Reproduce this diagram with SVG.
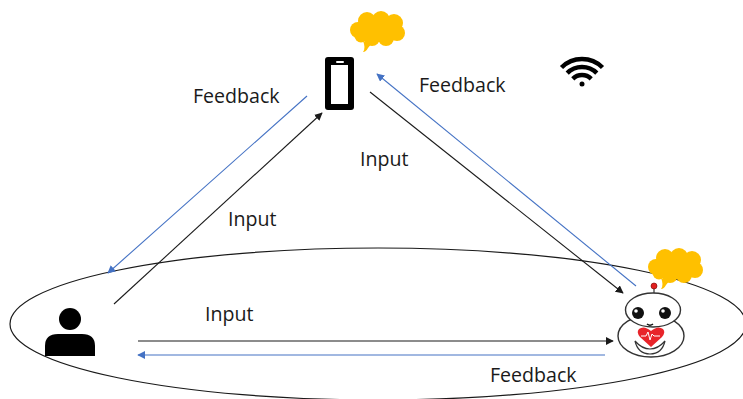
<svg xmlns="http://www.w3.org/2000/svg" width="743" height="399" viewBox="0 0 743 399">
  <style>
    .lbl { font-family: "Open Sans", "Noto Sans", "DejaVu Sans", sans-serif; font-size: 19.6px; fill: #1a1a1a; }
    .in { stroke: #1a1a1a; stroke-width: 1.1; fill: none; }
    .fb { stroke: #4472C4; stroke-width: 1.1; fill: none; }
    .cloud { fill: #FFC000; }
  </style>
  <defs>
    <marker id="arrBlack" viewBox="0 0 10 10" refX="9" refY="5" markerWidth="8" markerHeight="8" markerUnits="userSpaceOnUse" orient="auto">
      <path d="M0,0 L10,5 L0,10 z" fill="#1a1a1a"/>
    </marker>
    <marker id="arrBlue" viewBox="0 0 10 10" refX="9" refY="5" markerWidth="8" markerHeight="8" markerUnits="userSpaceOnUse" orient="auto">
      <path d="M0,0 L10,5 L0,10 z" fill="#4472C4"/>
    </marker>
    <g id="cloudShape" class="cloud">
      <ellipse cx="377" cy="29" rx="22" ry="13"/>
      <circle cx="358" cy="30" r="8"/>
      <circle cx="367" cy="21" r="9"/>
      <circle cx="381" cy="20" r="9"/>
      <circle cx="394" cy="23" r="9"/>
      <circle cx="397" cy="33" r="8"/>
      <circle cx="386" cy="38" r="8"/>
      <circle cx="372" cy="38" r="8"/>
      <circle cx="361" cy="36" r="6.5"/>
      <path d="M363,41 L372,43 L368,48 Q366,52 363,52 Q366,48 363,41 z"/>
    </g>
  </defs>

  <rect width="743" height="399" fill="#ffffff"/>

  <!-- local zone around the user and the robot -->
  <g id="zone">
    <ellipse cx="378" cy="324" rx="368" ry="76" fill="none" stroke="#1a1a1a" stroke-width="1.2"/>
  </g>

  <!-- connectors -->
  <g id="connectors">
    <line class="in" x1="114" y1="304" x2="322" y2="113" marker-end="url(#arrBlack)"/>
    <line class="fb" x1="307" y1="96" x2="108" y2="273" marker-end="url(#arrBlue)"/>
    <line class="in" x1="370" y1="92" x2="623" y2="293" marker-end="url(#arrBlack)"/>
    <line class="fb" x1="636" y1="286" x2="377" y2="74" marker-end="url(#arrBlue)"/>
    <line class="in" x1="138" y1="341" x2="613" y2="341" marker-end="url(#arrBlack)"/>
    <line class="fb" x1="605" y1="355" x2="138" y2="355" marker-end="url(#arrBlue)"/>
  </g>

  <!-- labels -->
  <g id="labels">
    <text class="lbl" x="193" y="103">Feedback</text>
    <text class="lbl" x="419" y="92">Feedback</text>
    <text class="lbl" x="360" y="166">Input</text>
    <text class="lbl" x="228" y="226">Input</text>
    <text class="lbl" x="205" y="321">Input</text>
    <text class="lbl" x="490" y="382">Feedback</text>
  </g>

  <!-- smartphone with thought cloud -->
  <g id="phone">
    <use href="#cloudShape"/>
    <rect x="325" y="57" width="29" height="53" rx="3" fill="#000000"/>
    <rect x="331" y="65" width="17" height="39" fill="#ffffff"/>
    <rect x="336" y="61" width="8" height="2" rx="1" fill="#ffffff"/>
  </g>

  <!-- wireless signal -->
  <g id="wifi" fill="none" stroke="#000000" stroke-width="4.5">
    <path d="M561.5,67.5 A29,29 0 0 1 602.5,67.5"/>
    <path d="M567.2,73.2 A21,21 0 0 1 596.8,73.2"/>
    <path d="M572.8,78.8 A13,13 0 0 1 591.2,78.8"/>
    <circle cx="582" cy="84" r="2.5" fill="#000000" stroke="none"/>
  </g>

  <!-- user -->
  <g id="user" fill="#000000">
    <circle cx="70" cy="319" r="11"/>
    <path d="M45,356 L45,346 Q45,334 58,334 L82,334 Q95,334 95,346 L95,356 z"/>
  </g>

  <!-- companion robot with thought cloud -->
  <g id="robot">
    <use href="#cloudShape" transform="translate(298,237)"/>
    <line x1="654" y1="288" x2="654" y2="294" stroke="#333" stroke-width="1.2"/>
    <circle cx="654" cy="286" r="3" fill="#e02020" stroke="#700" stroke-width="0.6"/>
    <ellipse cx="651" cy="336" rx="33" ry="21" fill="#ffffff" stroke="#333" stroke-width="1.4"/>
    <ellipse cx="653" cy="310" rx="27.5" ry="17" fill="#ffffff" stroke="#333" stroke-width="1.4"/>
    <circle cx="638" cy="313" r="6" fill="#111"/>
    <circle cx="665" cy="313" r="6" fill="#111"/>
    <circle cx="636" cy="311" r="1.8" fill="#fff"/>
    <circle cx="663" cy="311" r="1.8" fill="#fff"/>
    <path d="M647,324 Q650,326.5 653,324" fill="none" stroke="#111" stroke-width="1.6"/>
    <path d="M635,341 Q638,354 650,354 Q662,354 665,341 Q658,349 650,349 Q642,349 635,341 z" fill="#ffffff" stroke="#333" stroke-width="1.2"/>
    <path d="M651,347 L640,337 Q636,332 639,329 Q644,325 651,331 Q658,325 663,329 Q666,332 662,337 z" fill="#e8242a"/>
    <path d="M641,336 L646,336 L648,332 L650,340 L652,334 L654,336 L660,336" fill="none" stroke="#ffffff" stroke-width="1"/>
  </g>
</svg>
